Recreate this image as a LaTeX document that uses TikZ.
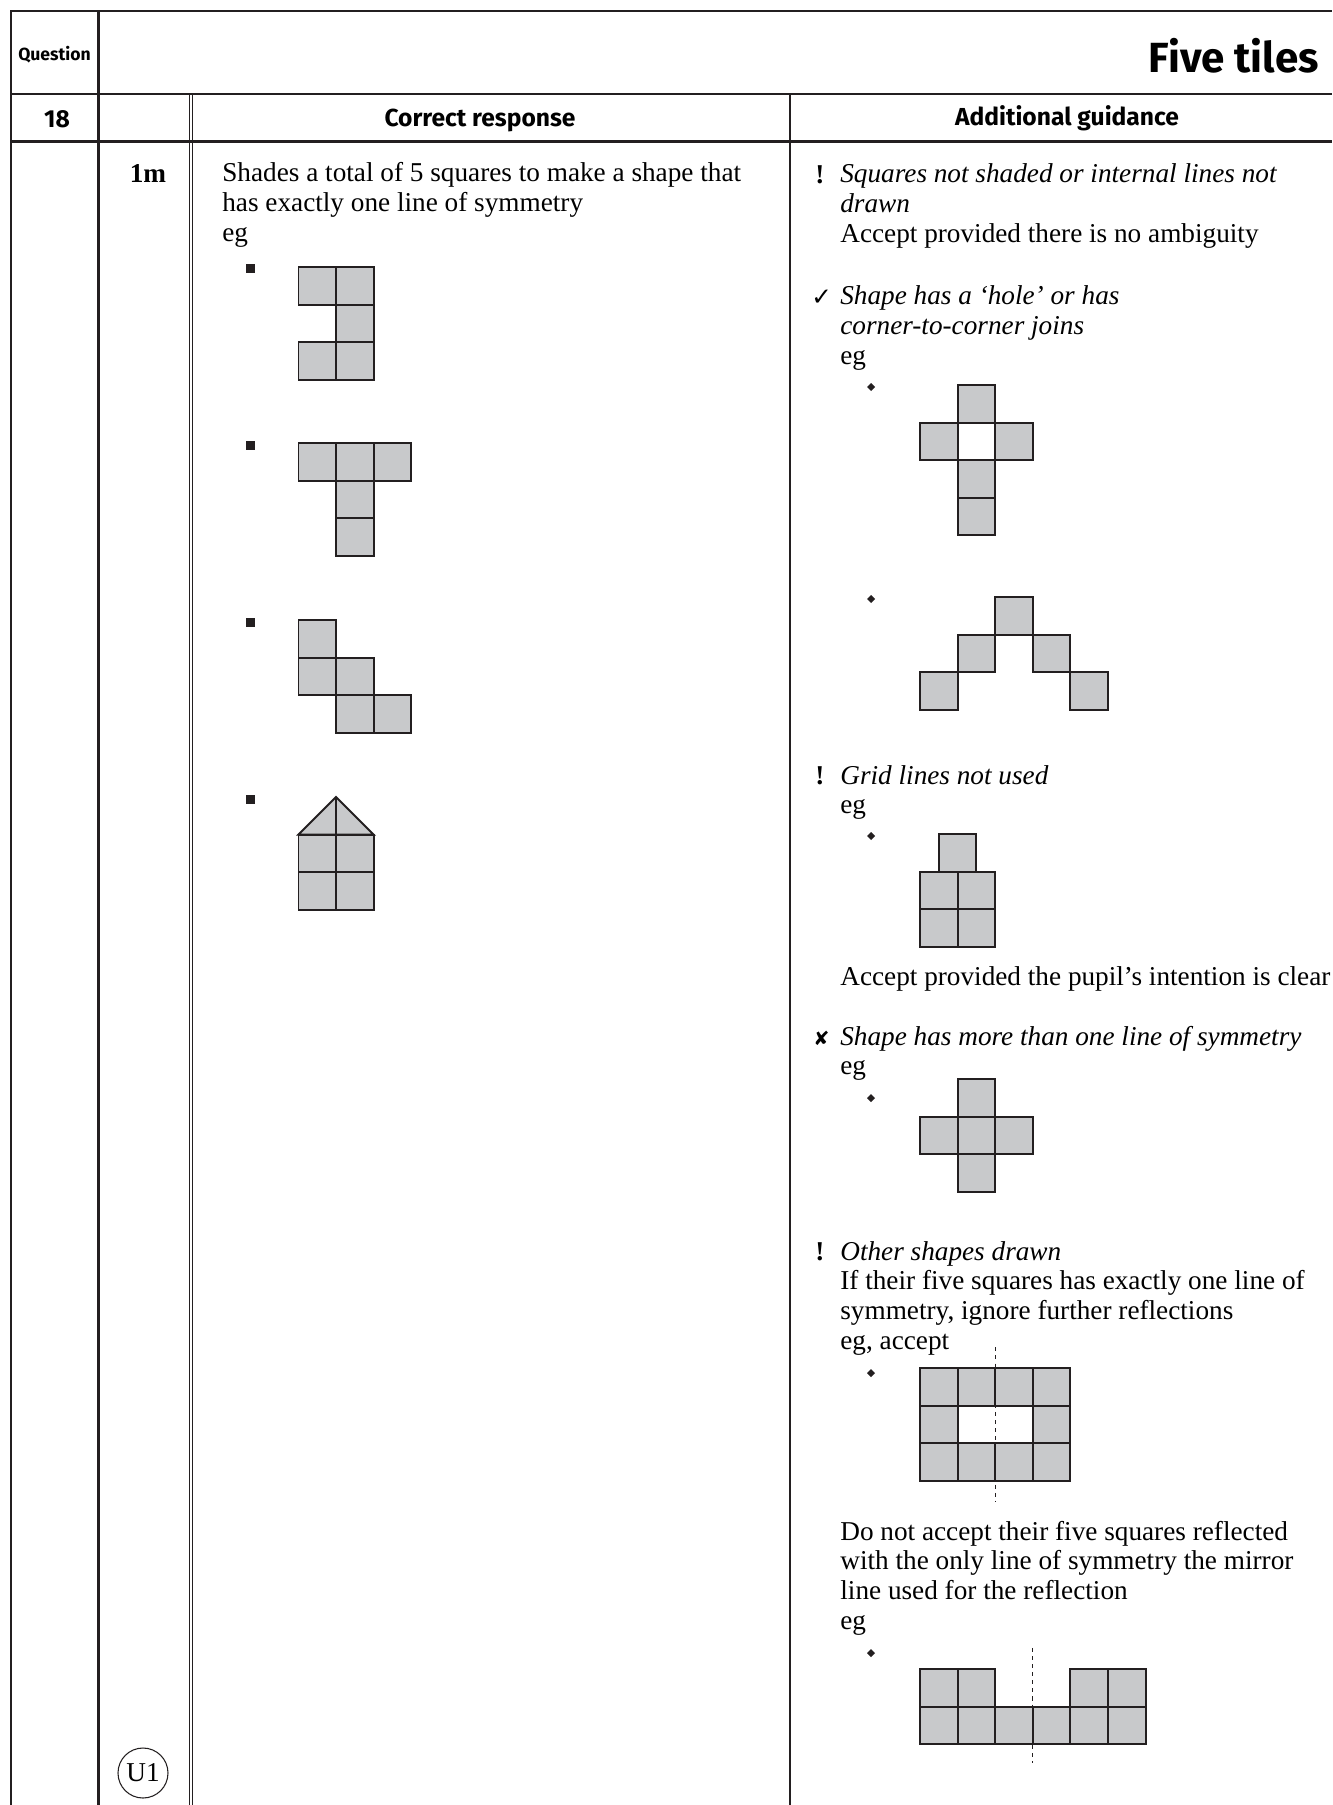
\documentclass[tikz,border=0pt]{standalone}
\usepackage{fontspec}
\setmainfont{Liberation Serif}
\newfontfamily\headfont{Fira Sans}
\newfontfamily\symfont{DejaVu Sans}
\usepackage{xcolor}
\usepackage{tikz}
\definecolor{tilegray}{RGB}{200,201,203}
\definecolor{ink}{RGB}{35,31,32}

\begin{document}
\begin{tikzpicture}[x=0.02cm,y=-0.02cm,font=\fontsize{15.5}{17}\selectfont]
\tikzset{frame/.style={line width=1.7pt,draw=ink},
midrule/.style={line width=1.1pt,draw=ink},
hair/.style={line width=.6pt,draw=ink},
tile/.style={line width=1.1pt,draw=ink,fill=tilegray},
txt/.style={anchor=base west,inner sep=0pt,align=left},
head/.style={anchor=base,inner sep=0pt,font=\headfont\bfseries\fontsize{14}{16}\selectfont},
marker/.style={anchor=base west,inner sep=0pt},
mirror/.style={line width=.6pt,draw=ink,dash pattern=on 2.3pt off 2.3pt},
grid/.style={shift={#1},x=0.752cm,y=-0.752cm}}
\useasboundingbox (0,0) rectangle (1332,1805);
% table rules
\draw[frame] (11,1805)--(11,11)--(1332,11);
\draw[midrule] (11,94)--(1332,94);
\draw[frame] (11,141.5)--(1332,141.5);
\draw[frame] (98.5,11)--(98.5,1805);
\draw[hair] (189.3,94)--(189.3,1805);
\draw[hair] (192.7,94)--(192.7,1805);
\draw[line width=.75pt,draw=ink] (790,94)--(790,1805);
% header
\node[anchor=center,inner sep=0pt,font=\headfont\bfseries\fontsize{10}{12}\selectfont] (qlabel) at (54.5,55) {Question};
\node[anchor=base east,inner sep=0pt,font=\headfont\bfseries\fontsize{24}{28}\selectfont] (title) at (1319,72) {Five tiles};
\node[head] (qnum) at (57,127) {18};
\node[head] (crhead) at (480,126) {Correct response};
\node[head] (aghead) at (1067,125) {Additional guidance};
% mark column (last line of a text block sits on the given point)
\node[anchor=base,inner sep=0pt,font=\bfseries\fontsize{15.5}{17}\selectfont] (mark) at (148,182) {1m};
\draw[hair] (143,1773) circle (25);
\node[inner sep=0pt] (code) at (143,1773) {U1};
% correct response
\node[txt] (crtext) at (222,241.7)
 {Shades a total of 5 squares to make a shape that\\has exactly one line of symmetry\\eg};
\foreach \y in {268,445,622,799}{\fill[ink] (250,\y) +(-4.5,-4.5) rectangle +(4.5,4.5);}
\begin{scope}[grid={(298.5,267)}]
\foreach \c/\r in {0/0,1/0,1/1,0/2,1/2}{\draw[tile] (\c,\r) rectangle ++(1,1);}
\end{scope}
\begin{scope}[grid={(298.5,443)}]
\foreach \c/\r in {0/0,1/0,2/0,1/1,1/2}{\draw[tile] (\c,\r) rectangle ++(1,1);}
\end{scope}
\begin{scope}[grid={(298.5,620)}]
\foreach \c/\r in {0/0,0/1,1/1,1/2,2/2}{\draw[tile] (\c,\r) rectangle ++(1,1);}
\end{scope}
\begin{scope}[grid={(298.5,797)}]
\draw[tile] (0,1)--(1,0)--(2,1)--cycle;
\draw[tile] (1,0)--(1,1);
\foreach \c/\r in {0/1,1/1,0/2,1/2}{\draw[tile] (\c,\r) rectangle ++(1,1);}
\end{scope}
% additional guidance
\node[marker,font=\bfseries\fontsize{15.5}{17}\selectfont] (bangA) at (815,183) {!};
\node[txt] (guideA) at (840,242.7)
 {\textit{Squares not shaded or internal lines not}\\\textit{drawn}\\Accept provided there is no ambiguity};
\node[marker,font=\symfont\fontsize{14}{17}\selectfont] (tickB) at (811,305) {✓};
\node[txt] (guideB) at (840,364.7)
 {\textit{Shape has a ‘hole’ or has}\\\textit{corner-to-corner joins}\\eg};
\node[marker,font=\bfseries\fontsize{15.5}{17}\selectfont] (bangC) at (815,784) {!};
\node[txt] (guideC) at (840,813.9) {\textit{Grid lines not used}\\eg};
\node[txt] (guideC2) at (840,985) {Accept provided the pupil’s intention is clear};
\node[marker,font=\symfont\fontsize{11}{17}\selectfont] (crossD) at (813,1045) {✘};
\node[txt] (guideD) at (840,1074.9) {\textit{Shape has more than one line of symmetry}\\eg};
\node[marker,font=\bfseries\fontsize{15.5}{17}\selectfont] (bangE) at (815,1260) {!};
\node[txt] (guideE) at (840,1349.6)
 {\textit{Other shapes drawn}\\If their five squares has exactly one line of\\symmetry, ignore further reflections\\eg, accept};
\node[txt] (guideE2) at (840,1629.6)
 {Do not accept their five squares reflected\\with the only line of symmetry the mirror\\line used for the reflection\\eg};
\foreach \y in {387,599,836,1098,1373,1653}{\fill[ink] (871,\y) ++(-4,0)--++(4,-4)--++(4,4)--++(-4,4)--cycle;}
\begin{scope}[grid={(920,385)}]
\foreach \c/\r in {1/0,0/1,2/1,1/2,1/3}{\draw[tile] (\c,\r) rectangle ++(1,1);}
\draw[tile,fill=white] (1,1) rectangle ++(1,1);
\end{scope}
\begin{scope}[grid={(920,597)}]
\foreach \c/\r in {2/0,1/1,3/1,0/2,4/2}{\draw[tile] (\c,\r) rectangle ++(1,1);}
\end{scope}
\begin{scope}[grid={(920,834)}]
\foreach \c/\r in {.5/0,0/1,1/1,0/2,1/2}{\draw[tile] (\c,\r) rectangle ++(1,1);}
\end{scope}
\begin{scope}[grid={(920,1079)}]
\foreach \c/\r in {1/0,0/1,1/1,2/1,1/2}{\draw[tile] (\c,\r) rectangle ++(1,1);}
\end{scope}
\begin{scope}[grid={(920,1368)}]
\foreach \c/\r in {0/0,1/0,2/0,3/0,0/1,3/1,0/2,1/2,2/2,3/2}{\draw[tile] (\c,\r) rectangle ++(1,1);}
\draw[mirror] (2,-.55)--(2,3.55);
\end{scope}
\begin{scope}[grid={(920,1669)}]
\foreach \c/\r in {0/0,1/0,4/0,5/0,0/1,1/1,2/1,3/1,4/1,5/1}{\draw[tile] (\c,\r) rectangle ++(1,1);}
\draw[mirror] (3,-.56)--(3,2.5);
\end{scope}
\end{tikzpicture}
\end{document}
